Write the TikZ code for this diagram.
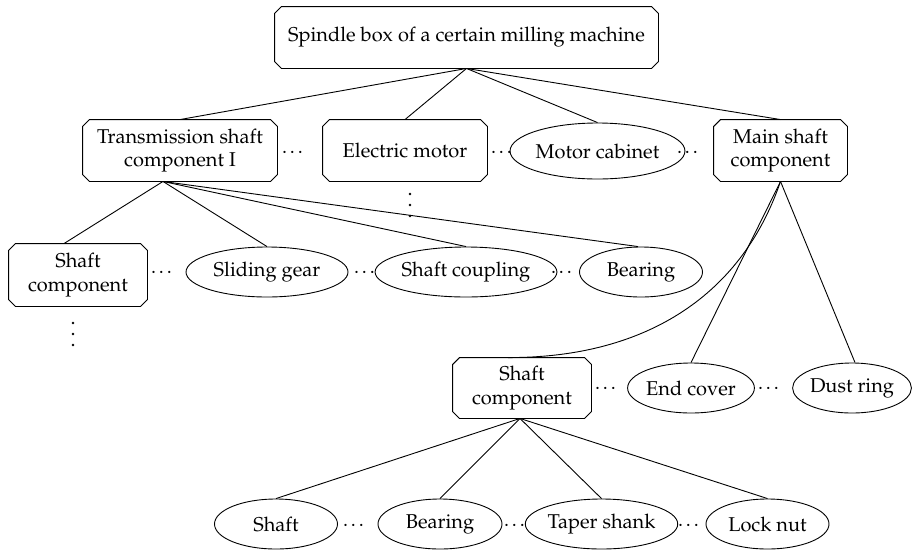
\documentclass[tikz,border=0pt]{standalone}
\usepackage[T1]{fontenc}
\usepackage{mathpazo}
\usetikzlibrary{shapes.geometric,calc}
\tikzset{
  base/.style={line width=0.9pt, inner sep=0pt, align=center,
    font=\fontsize{20}{23.5}\selectfont},
  cbox/.style={base, rectangle},
  ell/.style={base, draw, ellipse},
  dotsnode/.style={inner sep=0pt, anchor=base, font=\fontsize{20}{23.5}\selectfont},
  vdot/.style={circle, fill=black, inner sep=0pt, minimum size=2.6pt},
  edge/.style={line width=0.9pt},
  outline/.style={line width=0.9pt, line join=miter}
}
\newcommand\chamferbox[1]{%
  \draw[outline] ([xshift=7pt]#1.north west) -- ([xshift=-7pt]#1.north east)
    -- ([yshift=-7pt]#1.north east) -- ([yshift=7pt]#1.south east)
    -- ([xshift=-7pt]#1.south east) -- ([xshift=7pt]#1.south west)
    -- ([yshift=7pt]#1.south west) -- ([yshift=-7pt]#1.north west) -- cycle;}
\begin{document}
\begin{tikzpicture}[x=1pt,y=-1pt]
\useasboundingbox (0,0) rectangle (912,550);
% level 0
\node[cbox, minimum width=383pt, minimum height=61pt] (root) at (466.5,37.5) {Spindle box of a certain milling machine};
% level 1
\node[cbox, minimum width=194pt, minimum height=61pt] (tr) at (180,150.5) {Transmission shaft\\component I};
\node[cbox, minimum width=164pt, minimum height=61pt] (em) at (405,150.5) {Electric motor};
\node[ell, minimum width=149pt, minimum height=56pt] (mc) at (597.5,151) {Motor cabinet};
\node[cbox, minimum width=133pt, minimum height=61pt] (ms) at (780.5,150.5) {Main shaft\\component};
\node[dotsnode] (d1) at (294,153.5) {\dots};
\node[dotsnode] (d2) at (503,153.5) {\dots};
\node[dotsnode] (d3) at (689,153.5) {\dots};
\node[vdot] (v1a) at (410,194) {};
\node[vdot] (v1b) at (410,205) {};
\node[vdot] (v1c) at (410,216) {};
% level 2 (transmission)
\node[cbox, minimum width=138pt, minimum height=62pt] (sc1) at (78,275) {Shaft\\component};
\node[ell, minimum width=162pt, minimum height=50pt] (sg) at (267,272) {Sliding gear};
\node[ell, minimum width=160pt, minimum height=50pt] (scp) at (466,272) {Shaft coupling};
\node[ell, minimum width=123pt, minimum height=50pt] (br1) at (641,272) {Bearing};
\node[dotsnode] (d4) at (163,273.5) {\dots};
\node[dotsnode] (d5) at (366,273.5) {\dots};
\node[dotsnode] (d6) at (563,273.5) {\dots};
\node[vdot] (v2a) at (73,323) {};
\node[vdot] (v2b) at (73,334) {};
\node[vdot] (v2c) at (73,345) {};
% level 2 (main shaft)
\node[cbox, minimum width=138pt, minimum height=60pt] (sc2) at (522,388) {Shaft\\component};
\node[ell, minimum width=124pt, minimum height=50pt] (ec) at (691,388) {End cover};
\node[ell, minimum width=118pt, minimum height=50pt] (dr) at (852,388) {Dust ring};
\node[dotsnode] (d7) at (607,389.5) {\dots};
\node[dotsnode] (d8) at (770,389.5) {\dots};
% level 3
\node[ell, minimum width=123pt, minimum height=50pt] (sh) at (276,524) {Shaft};
\node[ell, minimum width=124pt, minimum height=50pt] (br2) at (440,524) {Bearing};
\node[ell, minimum width=137pt, minimum height=50pt] (ts) at (601.5,524) {Taper shank};
\node[ell, minimum width=123pt, minimum height=50pt] (ln) at (767.5,524) {Lock nut};
\node[dotsnode] (d9) at (355,526) {\dots};
\node[dotsnode] (d10) at (516,526) {\dots};
\node[dotsnode] (d11) at (690,526) {\dots};
% chamfered outlines
\chamferbox{root}
\chamferbox{tr}
\chamferbox{em}
\chamferbox{ms}
\chamferbox{sc1}
\chamferbox{sc2}
% connectors
\draw[edge] (root.south) -- (tr.north);
\draw[edge] (root.south) -- (em.north);
\draw[edge] (root.south) -- (mc.north);
\draw[edge] (root.south) -- (ms.north);
\coordinate (trb) at ([xshift=-17pt]tr.south);
\draw[edge] (trb) -- ([xshift=-14pt]sc1.north);
\draw[edge] (trb) -- (sg.north);
\draw[edge] (trb) -- (scp.north);
\draw[edge] (trb) -- ([xshift=-3pt]br1.north);
\draw[edge] (ms.south) .. controls (740,300) and (640,358) .. ([xshift=-14pt]sc2.north);
\draw[edge] (ms.south) -- (ec.north);
\draw[edge] (ms.south) -- ([xshift=3pt]dr.north);
\draw[edge] ([xshift=-2pt]sc2.south) -- (sh.north);
\draw[edge] ([xshift=-2pt]sc2.south) -- (br2.north);
\draw[edge] ([xshift=-2pt]sc2.south) -- (ts.north);
\draw[edge] ([xshift=-2pt]sc2.south) -- (ln.north);
\end{tikzpicture}
\end{document}
